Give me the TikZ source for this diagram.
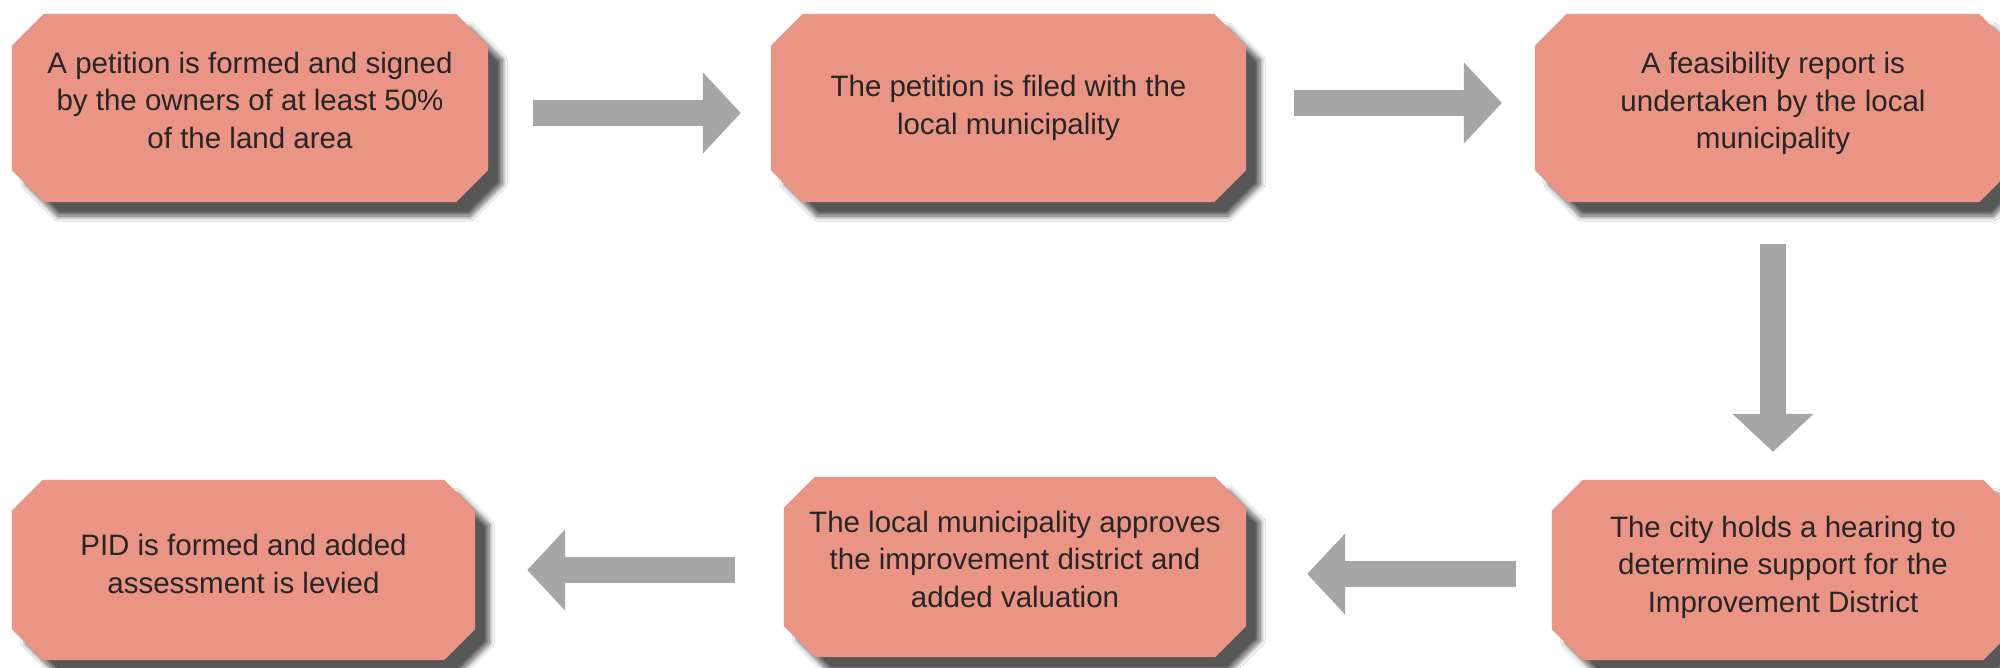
\documentclass[tikz,border=0pt]{standalone}
\usepackage{fontspec}
\setmainfont{Liberation Sans}
\usetikzlibrary{arrows.meta,shadows.blur}
\definecolor{boxfill}{RGB}{233,148,132}
\definecolor{arrowgray}{RGB}{166,166,166}
\definecolor{txt}{RGB}{38,38,38}
\tikzset{
  boxshape/.style={rectangle,inner sep=0pt,minimum width=#1},
  rowtop/.style={minimum height=188pt},
  rowbot/.style={minimum height=180pt},
  octofill/.style={fill=boxfill,blur shadow={shadow xshift=14pt,shadow yshift=-14pt,shadow blur radius=5pt,shadow blur steps=10,shadow opacity=66}},
  boxtext/.style={text=txt,align=center,inner sep=0pt,font=\fontsize{29.5pt}{37.5pt}\selectfont},
  blockarrow/.style={draw=arrowgray,line width=26.5pt,-{Triangle[length=38pt,width=79pt,fill=arrowgray]}}
}
\newcommand\octbox[2]{%
  \path[octofill] ([xshift=#2]#1.north west) -- ([xshift=-#2]#1.north east)
    -- ([yshift=-#2]#1.north east) -- ([yshift=#2]#1.south east)
    -- ([xshift=-#2]#1.south east) -- ([xshift=#2]#1.south west)
    -- ([yshift=#2]#1.south west) -- ([yshift=-#2]#1.north west) -- cycle;}
\begin{document}
\begin{tikzpicture}[x=1pt,y=-1pt]
\clip (0,0) rectangle (2000,668);
\fill[white] (0,0) rectangle (2000,668);
% box holders
\node[boxshape=476pt,rowtop] (b1) at (250,108) {};
\node[boxshape=475pt,rowtop] (b2) at (1008.5,108) {};
\node[boxshape=476pt,rowtop] (b3) at (1773,108) {};
\node[boxshape=462pt,rowbot] (b4) at (1783,570) {};
\node[boxshape=462pt,rowbot] (b5) at (1015,567) {};
\node[boxshape=463pt,rowbot] (b6) at (243.5,570) {};
% octagons
\octbox{b1}{32pt}
\octbox{b2}{32pt}
\octbox{b3}{32pt}
\octbox{b4}{31pt}
\octbox{b5}{31pt}
\octbox{b6}{31pt}
% texts
\node[boxtext] (t1) at ([yshift=8pt]b1.center) {A petition is formed and signed\\by the owners of at least 50\%\\of the land area};
\node[boxtext] (t2) at ([yshift=0pt]b2.center) {The petition is filed with the\\local municipality};
\node[boxtext] (t3) at ([yshift=4.5pt]b3.center) {A feasibility report is\\undertaken by the local\\municipality};
\node[boxtext] (t4) at ([yshift=3pt]b4.center) {The city holds a hearing to\\determine support for the\\Improvement District};
\node[boxtext] (t5) at ([yshift=8pt]b5.center) {The local municipality approves\\the improvement district and\\added valuation};
\node[boxtext] (t6) at ([yshift=6pt]b6.center) {PID is formed and added\\assessment is levied};
% arrow end points
\coordinate (a1s) at ([xshift=45pt,yshift=-5pt]b1.east);
\coordinate (a1x) at (b2.west |- a1s);
\coordinate (a2s) at ([xshift=48pt,yshift=5pt]b2.east);
\coordinate (a2x) at (b3.west |- a2s);
\coordinate (a3x) at (b3.south |- b4.north);
\coordinate (a4s) at ([xshift=-36pt,yshift=-4pt]b4.west);
\coordinate (a4x) at (b5.east |- a4s);
\coordinate (a5x) at (b5.west |- b6.east);
% arrows
\draw[blockarrow] (a1s) -- ([xshift=-30pt]a1x);
\draw[blockarrow] (a2s) -- ([xshift=-33pt]a2x);
\draw[blockarrow] ([yshift=-42pt]b3.south) -- ([yshift=28pt]a3x);
\draw[blockarrow] (a4s) -- ([xshift=61pt]a4x);
\draw[blockarrow] ([xshift=-49pt]a5x) -- ([xshift=52pt]b6.east);
\end{tikzpicture}
\end{document}
